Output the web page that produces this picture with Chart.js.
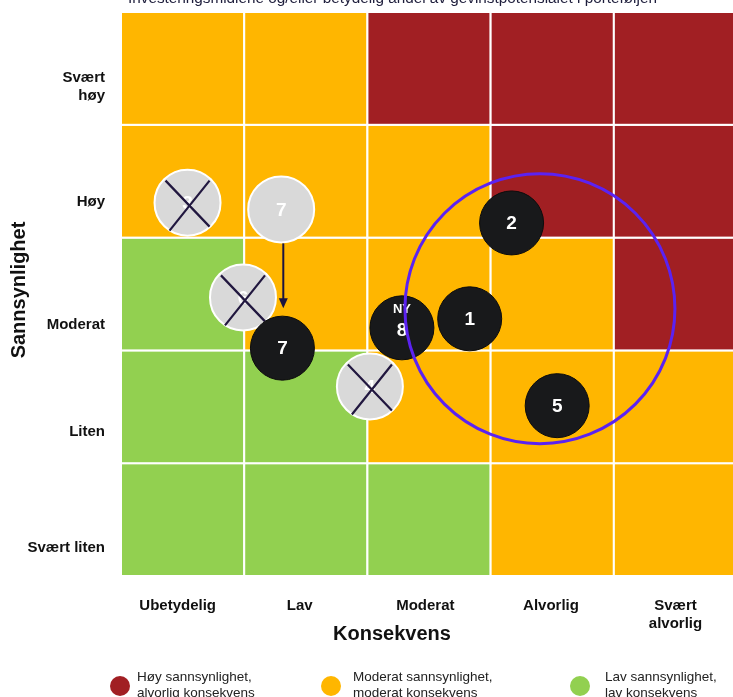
<!DOCTYPE html>
<html>
<head>
<meta charset="utf-8">
<script src="https://cdn.jsdelivr.net/npm/chart.js@4.4.1/dist/chart.umd.min.js"></script>
<style>
  html, body { margin: 0; padding: 0; background: #fff; overflow: hidden; }
  #wrap { width: 733px; height: 697px; position: relative; }
</style>
</head>
<body>
<div id="wrap"><canvas id="risk-matrix"></canvas></div>
<script>
const FONT = "'Liberation Sans', Arial, sans-serif";

const topNote = "Investeringsmidlene og/eller betydelig andel av gevinstpotensialet i porteføljen";
const xTitle = "Konsekvens";
const yTitle = "Sannsynlighet";

const consequenceLabels = ["Ubetydelig", "Lav", "Moderat", "Alvorlig", ["Svært", "alvorlig"]];
const consequenceTickPos = [0.46, 1.45, 2.47, 3.49, 4.5];
const likelihoodLabels = ["Svært liten", "Liten", "Moderat", "Høy", ["Svært", "høy"]];
const likelihoodTickPos = [0.25, 1.28, 2.23, 3.32, 4.34];

// risk level per cell, bottom row (Svært liten) first, columns Ubetydelig -> Svært alvorlig
const cellLevels = [
  ["L", "L", "L", "M", "M"],
  ["L", "L", "M", "M", "M"],
  ["L", "M", "M", "M", "H"],
  ["M", "M", "M", "H", "H"],
  ["M", "M", "H", "H", "H"],
];
const levelColors = { H: "#A11F23", M: "#FFB600", L: "#92D050" };

const legendLevels = ["H", "M", "L"];
const legendLabels = [
  ["Høy sannsynlighet,", "alvorlig konsekvens"],
  ["Moderat sannsynlighet,", "moderat konsekvens"],
  ["Lav sannsynlighet,", "lav konsekvens"],
];

// current risks
const riskIds = ["2", "8", "1", "7", "5"];
const riskTags = ["", "NY", "", "", ""];
const riskX = [3.17, 2.28, 2.83, 1.31, 3.54];
const riskY = [3.13, 2.20, 2.28, 2.02, 1.51];

// earlier positions (grey), closed ones crossed out
const oldIds = ["3", "7", "6", "4"];
const oldClosed = [true, false, true, true];
const oldX = [0.54, 1.30, 0.99, 2.02];
const oldY = [3.31, 3.25, 2.47, 1.68];

// focus ring
const focusX = [3.40];
const focusY = [2.37];

const xMax = 4.967; // last column is cut by the picture edge

const matrixPlugin = {
  id: "matrix",
  beforeDatasetsDraw(chart) {
    const { ctx, scales: { x, y } } = chart;
    ctx.save();
    cellLevels.forEach((row, r) => {
      row.forEach((lvl, c) => {
        const left = x.getPixelForValue(c);
        const right = x.getPixelForValue(c + 1);
        const top = y.getPixelForValue(r + 1);
        const bottom = y.getPixelForValue(r);
        ctx.fillStyle = levelColors[lvl];
        ctx.fillRect(left, top, right - left, bottom - top);
        ctx.strokeStyle = "#fff";
        ctx.lineWidth = 2;
        ctx.strokeRect(left, top, right - left, bottom - top);
      });
    });
    ctx.restore();
  },
  afterDatasetDraw(chart, args) {
    const { ctx } = chart;
    const label = chart.data.datasets[args.index].label;
    const pts = args.meta.data;
    ctx.save();
    ctx.textAlign = "center";
    ctx.textBaseline = "middle";
    if (label === "old") {
      pts.forEach((p, i) => {
        ctx.fillStyle = "#fff";
        ctx.font = "bold 19px " + FONT;
        ctx.fillText(oldIds[i], p.x, p.y + 1);
        if (oldClosed[i]) {
          ctx.strokeStyle = "#21173F";
          ctx.lineWidth = 2.2;
          ctx.beginPath();
          ctx.moveTo(p.x - 22, p.y - 22);
          ctx.lineTo(p.x + 22, p.y + 24);
          ctx.moveTo(p.x + 22, p.y - 22);
          ctx.lineTo(p.x - 18, p.y + 28);
          ctx.stroke();
        }
      });
      // arrows from earlier position to current position
      const cur = chart.getDatasetMeta(chart.data.datasets.findIndex(d => d.label === "current")).data;
      oldIds.forEach((id, i) => {
        const j = riskIds.indexOf(id);
        if (oldClosed[i] || j < 0) return;
        const ax = (pts[i].x + cur[j].x) / 2 + 1.5;
        const y0 = pts[i].y + 34;
        const y1 = cur[j].y - 40;
        ctx.strokeStyle = "#1B1440";
        ctx.fillStyle = "#1B1440";
        ctx.lineWidth = 2;
        ctx.beginPath();
        ctx.moveTo(ax, y0);
        ctx.lineTo(ax, y1 - 9);
        ctx.stroke();
        ctx.beginPath();
        ctx.moveTo(ax - 4.5, y1 - 10);
        ctx.lineTo(ax + 4.5, y1 - 10);
        ctx.lineTo(ax, y1);
        ctx.closePath();
        ctx.fill();
      });
    }
    if (label === "current") {
      pts.forEach((p, i) => {
        ctx.fillStyle = "#fff";
        if (riskTags[i]) {
          ctx.font = "bold 13px " + FONT;
          ctx.fillText(riskTags[i], p.x, p.y - 18);
          ctx.font = "bold 19px " + FONT;
          ctx.fillText(riskIds[i], p.x, p.y + 3);
        } else {
          ctx.font = "bold 19px " + FONT;
          ctx.fillText(riskIds[i], p.x, p.y + 1);
        }
      });
    }
    ctx.restore();
  },
  afterDraw(chart) {
    const { ctx } = chart;
    ctx.save();
    // cut-off note above the matrix
    ctx.fillStyle = "#1E1E3C";
    ctx.font = "15.3px " + FONT;
    ctx.textAlign = "left";
    ctx.textBaseline = "alphabetic";
    ctx.fillText(topNote, 128, 3);

    // axis titles
    ctx.fillStyle = "#111";
    ctx.font = "bold 20px " + FONT;
    ctx.textAlign = "center";
    ctx.textBaseline = "middle";
    ctx.fillText(xTitle, 392, 634);
    ctx.save();
    ctx.translate(19, 290);
    ctx.rotate(-Math.PI / 2);
    ctx.fillText(yTitle, 0, 0);
    ctx.restore();

    // legend
    const legendDotX = [120, 331, 580];
    const legendTextX = [137, 353, 605];
    ctx.font = "13.5px " + FONT;
    ctx.textAlign = "left";
    legendLabels.forEach((lines, i) => {
      ctx.fillStyle = levelColors[legendLevels[i]];
      ctx.beginPath();
      ctx.arc(legendDotX[i], 686, 10, 0, Math.PI * 2);
      ctx.fill();
      ctx.fillStyle = "#222";
      lines.forEach((t, k) => ctx.fillText(t, legendTextX[i], 677 + k * 16));
    });
    ctx.restore();
  },
};

const ctx = document.getElementById("risk-matrix").getContext("2d");

new Chart(ctx, {
  type: "scatter",
  data: {
    datasets: [
      {
        label: "focus",
        data: focusX.map((v, i) => ({ x: v, y: focusY[i] })),
        pointRadius: 135,
        backgroundColor: "rgba(0,0,0,0)",
        borderColor: "#5B22F2",
        borderWidth: 3,
        clip: false,
      },
      {
        label: "current",
        data: riskX.map((v, i) => ({ x: v, y: riskY[i] })),
        pointRadius: 32,
        backgroundColor: "#18191B",
        borderColor: "#0C0C0C",
        borderWidth: 1,
        clip: false,
      },
      {
        label: "old",
        data: oldX.map((v, i) => ({ x: v, y: oldY[i] })),
        pointRadius: 33,
        backgroundColor: "#D9D9D9",
        borderColor: "#FFFFFF",
        borderWidth: 2,
        clip: false,
      },
    ],
  },
  options: {
    responsive: true,
    maintainAspectRatio: false,
    animation: false,
    events: [],
    layout: { autoPadding: false, padding: { top: 12, left: 0, right: 0, bottom: 0 } },
    plugins: {
      legend: { display: false },
      tooltip: { enabled: false },
    },
    scales: {
      x: {
        type: "linear",
        min: 0,
        max: xMax,
        grid: { display: false, drawTicks: false },
        border: { display: false },
        afterFit(scale) {
          scale.height = 121;
          scale.paddingLeft = 0;
          scale.paddingRight = 0;
        },
        afterBuildTicks(scale) { scale.ticks = consequenceTickPos.map(v => ({ value: v })); },
        ticks: {
          autoSkip: false,
          maxRotation: 0,
          padding: 21,
          color: "#111",
          font: { family: FONT, size: 15, weight: "bold", lineHeight: 1.2 },
          callback: (v, i) => consequenceLabels[i],
        },
      },
      y: {
        type: "linear",
        min: 0,
        max: 5,
        grid: { display: false, drawTicks: false },
        border: { display: false },
        afterFit(scale) {
          scale.width = 121;
          scale.paddingTop = 0;
          scale.paddingBottom = 0;
        },
        afterBuildTicks(scale) { scale.ticks = likelihoodTickPos.map(v => ({ value: v })); },
        ticks: {
          autoSkip: false,
          padding: 16,
          color: "#111",
          font: { family: FONT, size: 15, weight: "bold", lineHeight: 1.2 },
          callback: (v, i) => likelihoodLabels[i],
        },
      },
    },
  },
  plugins: [matrixPlugin],
});
</script>
</body>
</html>
